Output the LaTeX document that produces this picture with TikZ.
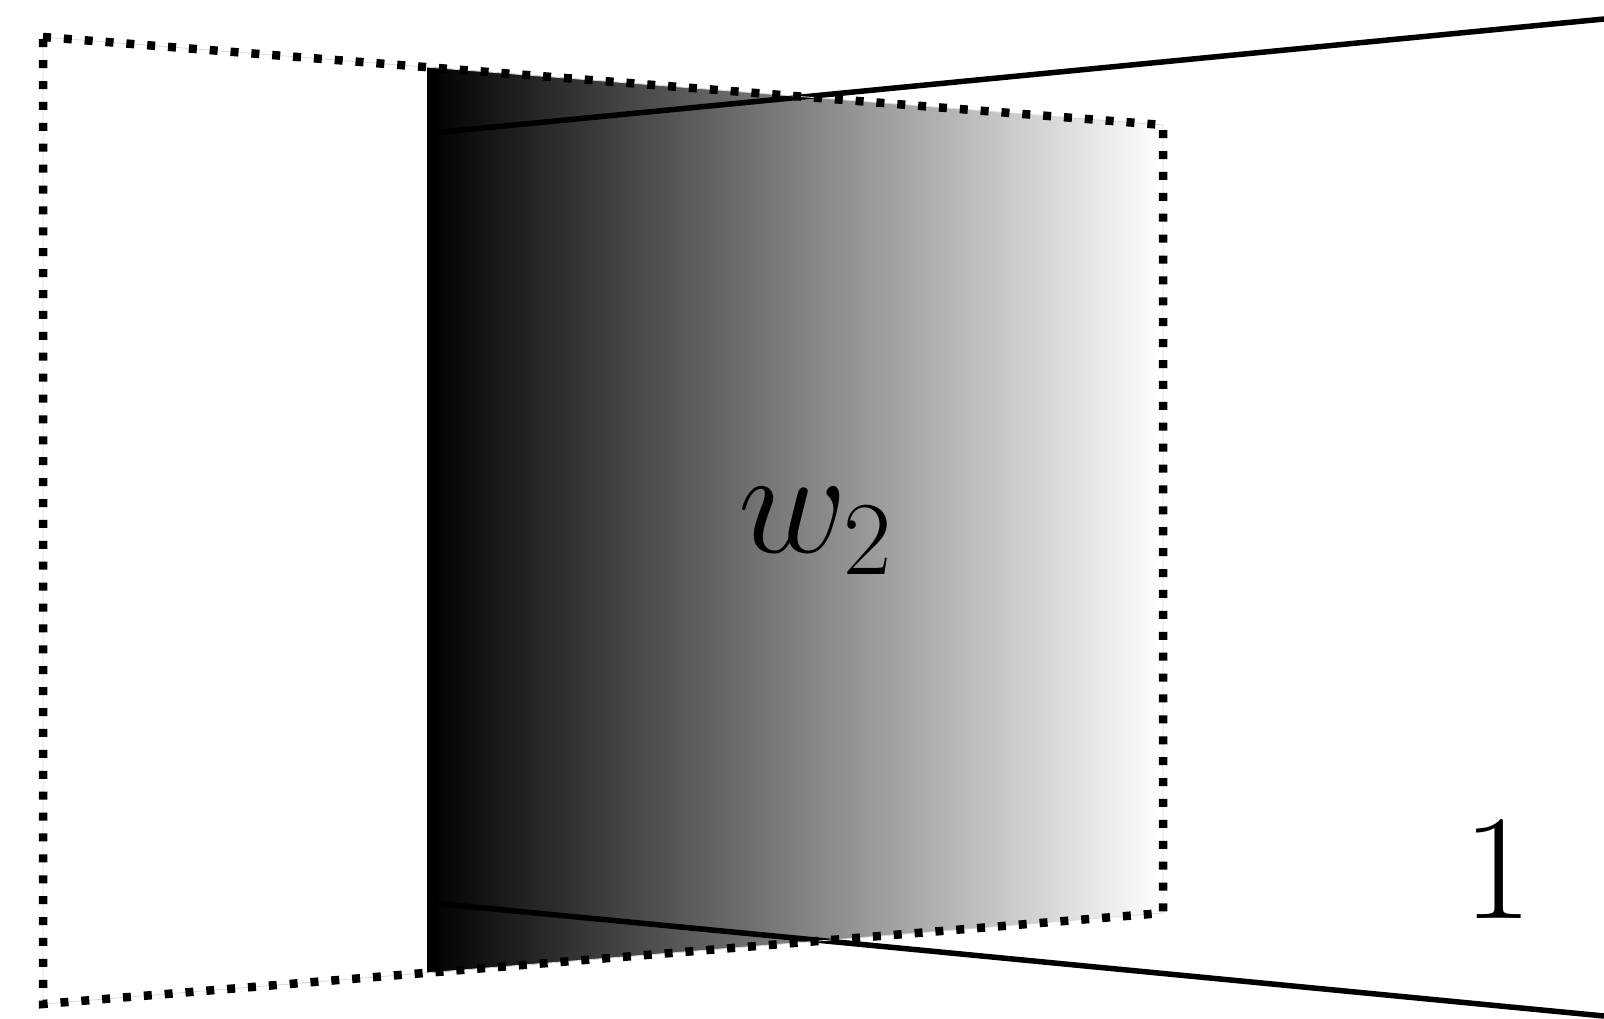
\RequirePackage{fix-cm}
\documentclass[tikz,border=0pt]{standalone}
\tikzset{
  dotline/.style={line width=8.5pt, line cap=butt, dash pattern=on 8pt off 12.9pt},
  guide/.style={line width=0.8pt, black!15},
  solidline/.style={line width=5.5pt},
  bigtext/.style={inner sep=0pt, font=\fontsize{150}{160}\selectfont}
}
\begin{document}
\begin{tikzpicture}[x=1pt,y=-1pt]
\useasboundingbox (0,0) rectangle (1604,1019);
% corners of the dotted frame
\coordinate (TL) at (43,37);
\coordinate (TR) at (1163,125);
\coordinate (BR) at (1163,913);
\coordinate (BL) at (43,1004);
% shaded panel corners
\coordinate (GT) at (427,67);
\coordinate (GB) at (427,973);
\shade[left color=black, right color=white] (GT) -- (TR) -- (BR) -- (GB) -- cycle;
\fill[black] (427,67) -- (438,68) -- (438,972) -- (427,973) -- cycle;
% solid lines
\coordinate (A1) at (432,133);
\coordinate (A2) at (1604,19);
\coordinate (B1) at (432,903);
\coordinate (B2) at (1604,1016);
\draw[solidline] (A1) -- (A2);
\draw[solidline] (B1) -- (B2);
% dotted frame
\draw[guide] (TL) -- (TR) -- (BR) -- (BL) -- cycle;
\draw[dotline] (TL) -- (TR) -- (BR) -- (BL) -- cycle;
% labels
\node[bigtext, anchor=base west] (w) at (738,552) {$w_2$};
\node[bigtext, anchor=base] (one) at (1498,918) {1};
\end{tikzpicture}
\end{document}
